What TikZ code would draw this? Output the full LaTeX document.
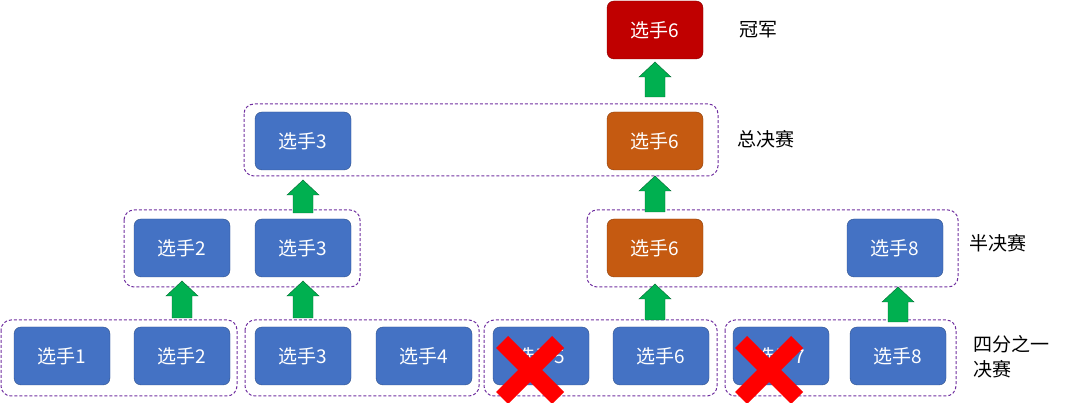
\documentclass[tikz,border=0pt]{standalone}
\usepackage{fontspec}
\setmainfont{Noto Sans CJK SC}
\usetikzlibrary{shapes.arrows}
\definecolor{pb}{HTML}{4472C4}
\definecolor{po}{HTML}{C55A11}
\definecolor{pr}{HTML}{C00000}
\definecolor{ga}{HTML}{00B050}
\definecolor{gv}{HTML}{7030A0}
\begin{document}
\begin{tikzpicture}[x=1pt,y=-1pt,
 pl/.style={draw=pb!70!black,fill=pb,rounded corners=7pt,minimum width=96pt,minimum height=58pt,text=white,font=\fontsize{19}{22}\selectfont,inner sep=0pt},
 grp/.style={draw=gv,dashed,line width=1pt,rounded corners=10pt,dash pattern=on 3pt off 2pt},
 up/.style={fill=ga,draw=ga!60!black,line width=0.4pt},
 lab/.style={font=\fontsize{19}{22}\selectfont,anchor=west,align=left}]
\useasboundingbox (0,0) rectangle (1080,403);
\draw[grp] (1,320) rectangle (237,396);
\draw[grp] (245,320) rectangle (479,396);
\draw[grp] (484,320) rectangle (717,396);
\draw[grp] (725,320) rectangle (956,396);
\draw[grp] (124,210) rectangle (360,287);
\draw[grp] (587,210) rectangle (958,287);
\draw[grp] (244,104) rectangle (718,176);
\node[pl] (a1) at (62,356) {选手1};
\node[pl] (a2) at (182,356) {选手2};
\node[pl] (a3) at (303,356) {选手3};
\node[pl] (a4) at (424,356) {选手4};
\node[pl] (a5) at (541,356) {选手5};
\node[pl] (a6) at (661,356) {选手6};
\node[pl] (a7) at (781,356) {选手7};
\node[pl] (a8) at (898,356) {选手8};
\node[pl] (b2) at (182,248) {选手2};
\node[pl] (b3) at (303,248) {选手3};
\node[pl,fill=po,draw=po!70!black] (b6) at (655,248) {选手6};
\node[pl] (b8) at (895,248) {选手8};
\node[pl] (c3) at (303,141) {选手3};
\node[pl,fill=po,draw=po!70!black] (c6) at (655,141) {选手6};
\node[pl,fill=pr,draw=pr!70!black] (d6) at (655,30) {选手6};
\foreach \x/\yb/\yt in {182/318/281, 303/318/281, 655/320/284, 898/322/287, 303/213/180, 655/212/176, 655/97/62}{
 \draw[up] (\x-10,\yb) -- (\x-10,\yt+15) -- (\x-16,\yt+15) -- (\x,\yt) -- (\x+16,\yt+15) -- (\x+10,\yt+15) -- (\x+10,\yb) -- cycle;}
\foreach \cx/\cy in {530/370, 769/370}{
 \fill[red] (\cx-34,\cy-22) -- (\cx-22,\cy-34) -- (\cx+34,\cy+22) -- (\cx+22,\cy+34) -- cycle;
 \fill[red] (\cx+34,\cy-22) -- (\cx+22,\cy-34) -- (\cx-34,\cy+22) -- (\cx-22,\cy+34) -- cycle;}
\node[lab] (l1) at (736,30) {冠军};
\node[lab] (l2) at (734,139) {总决赛};
\node[lab] (l3) at (966,243) {半决赛};
\node[lab,font=\fontsize{19}{25}\selectfont] (l4) at (970,357) {四分之一\\决赛};
\end{tikzpicture}
\end{document}
